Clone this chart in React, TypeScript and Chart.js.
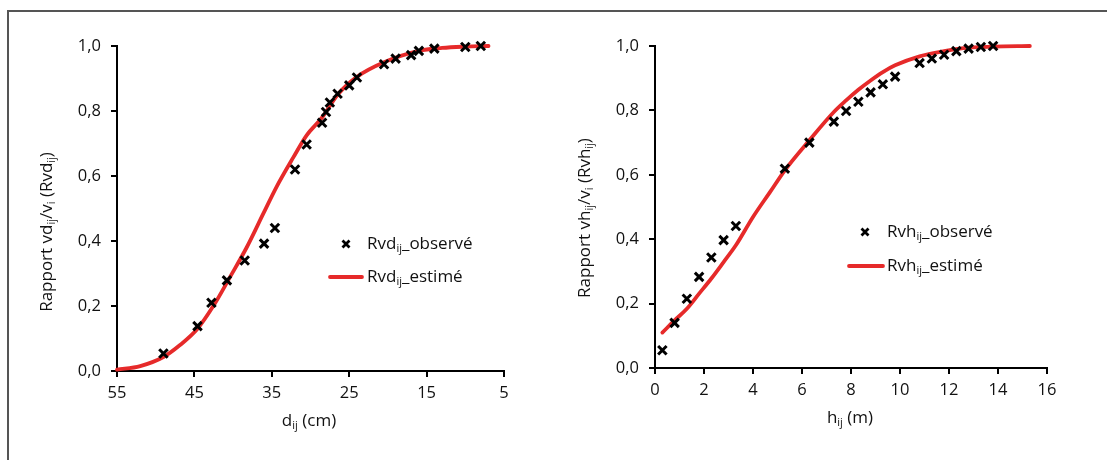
import React, { useEffect, useRef } from "react";
import { Chart, registerables } from "chart.js";

Chart.register(...registerables);

const FONT = "'Open Sans', sans-serif";
const RED = "#e62a2a";
const INK = "#111111";

// Left panel: diameter (cm) vs Rvd
const diamObs = [49.0, 44.6, 42.8, 40.8, 38.5, 36.0, 34.6, 32.0, 30.5, 28.5, 28.0, 27.5, 26.5, 25.0, 24.0, 20.5, 19.0, 17.0, 16.0, 14.0, 10.0, 8.0];
const rvdObs = [0.054, 0.138, 0.21, 0.279, 0.34, 0.392, 0.44, 0.62, 0.697, 0.764, 0.797, 0.826, 0.853, 0.879, 0.903, 0.944, 0.961, 0.972, 0.985, 0.992, 0.997, 1.0];
const diamEst = [55, 52, 49, 46.9, 44.6, 42.5, 40.4, 38.25, 36.1, 34.4, 32.2, 30.5, 28.5, 26.5, 24, 20.5, 16, 13, 10, 7];
const rvdEst = [0.004, 0.015, 0.043, 0.079, 0.13, 0.202, 0.289, 0.38, 0.484, 0.566, 0.658, 0.725, 0.78, 0.85, 0.905, 0.95, 0.985, 0.994, 0.998, 1.0];

// Right panel: height (m) vs Rvh
const hObs = [0.3, 0.8, 1.3, 1.8, 2.3, 2.8, 3.3, 5.3, 6.3, 7.3, 7.8, 8.3, 8.8, 9.3, 9.8, 10.8, 11.3, 11.8, 12.3, 12.8, 13.3, 13.8];
const rvhObs = [0.055, 0.14, 0.215, 0.283, 0.343, 0.397, 0.441, 0.619, 0.7, 0.765, 0.798, 0.827, 0.856, 0.881, 0.905, 0.947, 0.961, 0.973, 0.984, 0.992, 0.997, 1.0];
const hEst = [0.3, 0.8, 1.3, 1.8, 2.3, 2.8, 3.3, 4.0, 4.7, 5.3, 6.3, 7.3, 7.8, 8.3, 8.8, 9.3, 9.8, 10.8, 11.8, 12.8, 13.8, 15.3];
const rvhEst = [0.11, 0.148, 0.184, 0.231, 0.278, 0.329, 0.381, 0.469, 0.547, 0.614, 0.707, 0.795, 0.831, 0.864, 0.893, 0.919, 0.94, 0.968, 0.984, 0.995, 0.998, 1.0];

type Seg = { t: string; sub?: boolean };

const leftLabels = {
  yTitle: [{ t: "Rapport vd" }, { t: "ij", sub: true }, { t: "/v" }, { t: "i", sub: true }, { t: " (Rvd" }, { t: "ij", sub: true }, { t: ")" }] as Seg[],
  xTitle: [{ t: "d" }, { t: "ij", sub: true }, { t: " (cm)" }] as Seg[],
  obs: [{ t: "Rvd" }, { t: "ij", sub: true }, { t: "_observé" }] as Seg[],
  est: [{ t: "Rvd" }, { t: "ij", sub: true }, { t: "_estimé" }] as Seg[],
};
const rightLabels = {
  yTitle: [{ t: "Rapport vh" }, { t: "ij", sub: true }, { t: "/v" }, { t: "i", sub: true }, { t: " (Rvh" }, { t: "ij", sub: true }, { t: ")" }] as Seg[],
  xTitle: [{ t: "h" }, { t: "ij", sub: true }, { t: " (m)" }] as Seg[],
  obs: [{ t: "Rvh" }, { t: "ij", sub: true }, { t: "_observé" }] as Seg[],
  est: [{ t: "Rvh" }, { t: "ij", sub: true }, { t: "_estimé" }] as Seg[],
};

const SIZE = 17;
const SUB = 11;

function drawRich(ctx: CanvasRenderingContext2D, segs: Seg[], x: number, y: number, align: "left" | "center") {
  ctx.save();
  ctx.textBaseline = "middle";
  ctx.textAlign = "left";
  ctx.fillStyle = INK;
  const widths = segs.map((s) => {
    ctx.font = `${s.sub ? SUB : SIZE}px ${FONT}`;
    return ctx.measureText(s.t).width;
  });
  const total = widths.reduce((a, b) => a + b, 0);
  let cx = align === "center" ? x - total / 2 : x;
  segs.forEach((s, i) => {
    ctx.font = `${s.sub ? SUB : SIZE}px ${FONT}`;
    ctx.fillText(s.t, cx, s.sub ? y + 5 : y);
    cx += widths[i];
  });
  ctx.restore();
}

type Panel = {
  labels: typeof leftLabels;
  xs: number[];
  ys: number[];
  ex: number[];
  ey: number[];
  min: number;
  max: number;
  step: number;
  reverse: boolean;
  yAxisWidth: number;
  xAxisHeight: number;
  padRight: number;
  yTitle: [number, number];
  xTitle: [number, number];
  legMarker: [number, number];
  legText: number;
  legLine: [number, number, number];
  legTextY: [number, number];
};

function makeChart(canvas: HTMLCanvasElement, p: Panel) {
  const textPlugin = {
    id: "richText",
    afterDraw(chart: any) {
      const ctx: CanvasRenderingContext2D = chart.ctx;
      ctx.save();
      ctx.translate(p.yTitle[0], p.yTitle[1]);
      ctx.rotate(-Math.PI / 2);
      drawRich(ctx, p.labels.yTitle, 0, 0, "center");
      ctx.restore();
      drawRich(ctx, p.labels.xTitle, p.xTitle[0], p.xTitle[1], "center");
      ctx.save();
      ctx.strokeStyle = "#000";
      ctx.lineWidth = 2.8;
      const [mx, my] = p.legMarker;
      const r = 3.5;
      ctx.beginPath();
      ctx.moveTo(mx - r, my - r);
      ctx.lineTo(mx + r, my + r);
      ctx.moveTo(mx + r, my - r);
      ctx.lineTo(mx - r, my + r);
      ctx.stroke();
      ctx.strokeStyle = RED;
      ctx.lineWidth = 3.8;
      ctx.lineCap = "round";
      ctx.beginPath();
      ctx.moveTo(p.legLine[0], p.legLine[2]);
      ctx.lineTo(p.legLine[1], p.legLine[2]);
      ctx.stroke();
      ctx.restore();
      drawRich(ctx, p.labels.obs, p.legText, p.legTextY[0], "left");
      drawRich(ctx, p.labels.est, p.legText, p.legTextY[1], "left");
    },
  };

  const tickFont = { family: FONT, size: 16.5 };
  return new Chart(canvas, {
    type: "scatter",
    data: {
      datasets: [
        {
          data: p.xs.map((x, i) => ({ x, y: p.ys[i] })),
          pointStyle: "crossRot",
          pointRadius: 6,
          pointBorderWidth: 3,
          borderColor: "#000",
          backgroundColor: "#000",
          showLine: false,
          clip: false,
        },
        {
          data: p.ex.map((x, i) => ({ x, y: p.ey[i] })),
          showLine: true,
          borderColor: RED,
          borderWidth: 3.8,
          pointRadius: 0,
          cubicInterpolationMode: "monotone",
          borderCapStyle: "round",
          fill: false,
          clip: false,
        },
      ],
    },
    options: {
      animation: false,
      responsive: false,
      events: [],
      layout: { padding: { top: 46, right: p.padRight, left: 0, bottom: 0 } },
      plugins: { legend: { display: false }, tooltip: { enabled: false } },
      scales: {
        x: {
          type: "linear",
          min: p.min,
          max: p.max,
          reverse: p.reverse,
          ticks: { stepSize: p.step, font: tickFont, color: INK, padding: 6, maxRotation: 0 },
          grid: { drawOnChartArea: false, drawTicks: true, tickLength: 6, color: "#000", lineWidth: 2 },
          border: { color: "#000", width: 2 },
          afterFit: (s: any) => {
            s.height = p.xAxisHeight;
          },
        },
        y: {
          type: "linear",
          min: 0,
          max: 1,
          ticks: {
            stepSize: 0.2,
            font: tickFont,
            color: INK,
            padding: 10,
            callback: (v: any) => Number(v).toFixed(1).replace(".", ","),
          },
          grid: { drawOnChartArea: false, drawTicks: true, tickLength: 6, color: "#000", lineWidth: 2 },
          border: { color: "#000", width: 2 },
          afterFit: (s: any) => {
            s.width = p.yAxisWidth;
          },
        },
      },
    } as any,
    plugins: [textPlugin],
  });
}

const leftPanel: Panel = {
  labels: leftLabels,
  xs: diamObs,
  ys: rvdObs,
  ex: diamEst,
  ey: rvdEst,
  min: 5,
  max: 55,
  step: 10,
  reverse: true,
  yAxisWidth: 117,
  xAxisHeight: 89,
  padRight: 49,
  yTitle: [47, 232],
  xTitle: [309, 421],
  legMarker: [346, 244],
  legText: 367,
  legLine: [330, 362, 277],
  legTextY: [244, 277],
};

const rightPanel: Panel = {
  labels: rightLabels,
  xs: hObs,
  ys: rvhObs,
  ex: hEst,
  ey: rvhEst,
  min: 0,
  max: 16,
  step: 2,
  reverse: false,
  yAxisWidth: 102,
  xAxisHeight: 92,
  padRight: 60,
  yTitle: [32, 218],
  xTitle: [297, 418],
  legMarker: [312, 232],
  legText: 334,
  legLine: [296, 330, 266],
  legTextY: [232, 266],
};

function ChartCanvas({ panel, left, width }: { panel: Panel; left: number; width: number }) {
  const ref = useRef<HTMLCanvasElement | null>(null);
  useEffect(() => {
    if (!ref.current) return;
    const chart = makeChart(ref.current, panel);
    return () => chart.destroy();
  }, [panel]);
  return (
    <canvas
      ref={ref}
      width={width}
      height={460}
      style={{ position: "absolute", left, top: 0, width, height: 460, display: "block" }}
    />
  );
}

export default function App() {
  return (
    <div style={{ position: "absolute", left: 0, top: 0, width: 1107, height: 460, background: "#fff", overflow: "hidden" }}>
      <div
        style={{
          position: "absolute",
          left: 7,
          top: 10,
          width: 1200,
          height: 500,
          borderTop: "2px solid #555",
          borderLeft: "2px solid #555",
        }}
      />
      <ChartCanvas panel={leftPanel} left={0} width={553} />
      <ChartCanvas panel={rightPanel} left={553} width={554} />
    </div>
  );
}
